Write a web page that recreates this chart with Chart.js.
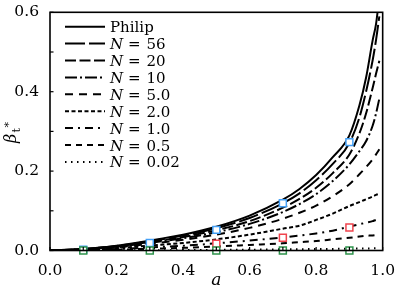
<!DOCTYPE html>
<html><head><meta charset="utf-8">
<script src="https://cdn.jsdelivr.net/npm/chart.js@4.4.0/dist/chart.umd.min.js"></script>
<style>html,body{margin:0;padding:0;background:#fff}#wrap{width:398px;height:299px}</style>
</head><body><div id="wrap"><canvas id="c" width="398" height="299"></canvas></div>
<script>
// a values (x axis)
const aValues = [0, 0.1, 0.2, 0.3, 0.4, 0.5, 0.6, 0.7, 0.75, 0.8, 0.85, 0.9, 0.93, 0.95, 0.97, 0.98, 0.99];
// curves
const philip = [0, 0.004, 0.012, 0.025, 0.040, 0.060, 0.088, 0.128, 0.155, 0.190, 0.235, 0.290, 0.365, 0.435, 0.530, 0.570, 0.640];
const n56    = [0, 0.0038, 0.0114, 0.0235, 0.0375, 0.056, 0.082, 0.119, 0.144, 0.177, 0.218, 0.271, 0.335, 0.400, 0.480, 0.530, 0.590];
const n20    = [0, 0.0035, 0.0104, 0.0215, 0.034, 0.051, 0.074, 0.108, 0.130, 0.158, 0.195, 0.242, 0.295, 0.345, 0.410, 0.445, 0.478];
const n10    = [0, 0.0032, 0.0095, 0.0195, 0.031, 0.046, 0.067, 0.097, 0.117, 0.142, 0.175, 0.217, 0.250, 0.275, 0.315, 0.345, 0.383];
const n5     = [0, 0.0027, 0.008, 0.017, 0.027, 0.040, 0.057, 0.080, 0.095, 0.113, 0.137, 0.167, 0.192, 0.210, 0.230, 0.242, 0.255];
const n2     = [0, 0.002, 0.006, 0.0125, 0.019, 0.028, 0.040, 0.055, 0.0625, 0.077, 0.093, 0.112, 0.122, 0.129, 0.136, 0.140, 0.143];
const n1     = [0, 0.0012, 0.0036, 0.0078, 0.012, 0.018, 0.025, 0.033, 0.0375, 0.043, 0.050, 0.060, 0.066, 0.070, 0.074, 0.077, 0.079];
const n05    = [0, 0.0007, 0.002, 0.0044, 0.0068, 0.010, 0.014, 0.018, 0.021, 0.024, 0.028, 0.032, 0.035, 0.037, 0.038, 0.039, 0.040];
const n002   = [0, 0.0001, 0.0003, 0.0006, 0.001, 0.0015, 0.002, 0.003, 0.0033, 0.0037, 0.004, 0.0045, 0.005, 0.0052, 0.0055, 0.0057, 0.006];
const curveLabels = ['Philip', 'N = 56', 'N = 20', 'N = 10', 'N = 5.0', 'N = 2.0', 'N = 1.0', 'N = 0.5', 'N = 0.02'];
// markers
const blueA = [0.1, 0.3, 0.5, 0.7, 0.9];
const blueV = [0.002, 0.019, 0.052, 0.119, 0.273];
const redA = [0.5, 0.7, 0.9];
const redV = [0.017, 0.032, 0.058];
const greenA = [0.1, 0.3, 0.5, 0.7, 0.9];
const greenV = [0, 0, 0, 0, 0];
const xTicks = [0.0, 0.2, 0.4, 0.6, 0.8, 1.0];
const yTicks = [0.0, 0.2, 0.4, 0.6];

const curveSeries = [philip, n56, n20, n10, n5, n2, n1, n05, n002];
const dashes = [[], [20, 4], [11, 3.5], [12, 3, 2, 3], [8, 6], [4, 2.5], [8, 5, 2, 5], [6, 5], [1.5, 4.5]];
const SERIF = '"DejaVu Serif", "Liberation Serif", serif';

const datasets = [];
curveSeries.forEach((s, i) => {
  datasets.push({
    type: 'line', label: curveLabels[i],
    data: aValues.map((a, k) => ({x: a, y: s[k]})),
    borderColor: '#000', borderWidth: 2, borderDash: dashes[i],
    pointRadius: 0, fill: false, cubicInterpolationMode: 'monotone', order: 10 + i, isCurve: true
  });
});
function markerSet(xs, ys, color, order, label) {
  return { type: 'scatter', label, data: xs.map((a, k) => ({x: a, y: ys[k]})),
    pointStyle: 'rect', pointRadius: 4.9, pointBorderWidth: 1.5,
    borderColor: color, backgroundColor: '#fff', pointBackgroundColor: '#fff', pointBorderColor: color,
    order, showLine: false, clip: false };
}
datasets.push(markerSet(redA, redV, '#f0444e', 2, 'red'));
datasets.push(markerSet(blueA, blueV, '#44a0f6', 1, 'blue'));
datasets.push(markerSet(greenA, greenV, '#2e924b', 0, 'green'));

const decor = {
  id: 'decor',
  afterDraw(chart) {
    const ctx = chart.ctx, ca = chart.chartArea;
    const xs = chart.scales.x, ys = chart.scales.y;
    ctx.save();
    // box
    ctx.strokeStyle = '#000'; ctx.lineWidth = 1.6; ctx.setLineDash([]);
    ctx.strokeRect(ca.left, ca.top, ca.right - ca.left, ca.bottom - ca.top);
    // inward ticks
    ctx.lineWidth = 1.2;
    for (let k = 0; k <= 10; k++) {
      const px = xs.getPixelForValue(k / 10);
      ctx.beginPath(); ctx.moveTo(px, ca.bottom); ctx.lineTo(px, ca.bottom - 3.5); ctx.stroke();
    }
    for (let k = 0; k <= 6; k++) {
      const py = ys.getPixelForValue(k / 10);
      ctx.beginPath(); ctx.moveTo(ca.left, py); ctx.lineTo(ca.left + 3.5, py); ctx.stroke();
    }
    // legend
    const lx0 = 65, lx1 = 105, tx = 110, y0 = 26.7, dy = 16.9;
    chart.data.datasets.filter(d => d.isCurve).forEach((d, i) => {
      const y = y0 + i * dy;
      ctx.strokeStyle = '#000'; ctx.lineWidth = 2; ctx.setLineDash(d.borderDash);
      ctx.beginPath(); ctx.moveTo(lx0, y); ctx.lineTo(lx1, y); ctx.stroke();
      ctx.setLineDash([]);
      ctx.fillStyle = '#000'; ctx.textBaseline = 'alphabetic'; ctx.textAlign = 'left';
      if (d.label.startsWith('N')) {
        const val = d.label.split('=')[1].trim();
        ctx.font = 'italic 15px ' + SERIF; ctx.fillText('N', tx, y + 5.5);
        ctx.font = '15px ' + SERIF; ctx.fillText('=', tx + 18, y + 5.5);
        ctx.fillText(val, tx + 36.5, y + 5.5);
      } else {
        ctx.font = '15px ' + SERIF; ctx.fillText(d.label, tx, y + 5.5);
      }
    });
    // x title
    ctx.font = 'italic 17px ' + SERIF; ctx.textAlign = 'center'; ctx.textBaseline = 'middle';
    ctx.fillText('a', (ca.left + ca.right) / 2, 281);
    // y title beta_t^*
    ctx.translate(16, 143); ctx.rotate(-Math.PI / 2);
    ctx.textAlign = 'left'; ctx.textBaseline = 'alphabetic';
    ctx.font = 'italic 16px ' + SERIF; ctx.fillText('β', 0, 0);
    ctx.font = '11px ' + SERIF; ctx.fillText('t', 10.5, 3.5);
    ctx.fillText('*', 15.5, -4);
    ctx.restore();
  }
};

new Chart(document.getElementById('c'), {
  data: { datasets },
  options: {
    responsive: false, animation: false, devicePixelRatio: 1,
    layout: { padding: { top: 9.5, right: 13, left: 0, bottom: 0 } },
    plugins: { legend: { display: false }, tooltip: { enabled: false } },
    scales: {
      x: { type: 'linear', min: 0, max: 1,
        afterFit(s) { s.height = 48.5; },
        afterBuildTicks(s) { s.ticks = xTicks.map(v => ({value: v})); },
        grid: { display: false }, border: { display: false },
        ticks: { autoSkip: false, maxRotation: 0, padding: 3, color: '#000',
          font: { family: SERIF, size: 15.5 }, callback: v => v.toFixed(1) } },
      y: { type: 'linear', min: 0, max: 0.6,
        afterFit(s) { s.width = 50; },
        afterBuildTicks(s) { s.ticks = yTicks.map(v => ({value: v})); },
        grid: { display: false }, border: { display: false },
        ticks: { autoSkip: false, padding: 3, color: '#000',
          font: { family: SERIF, size: 15.5 }, callback: v => v.toFixed(1) } }
    }
  },
  plugins: [decor]
});
</script></body></html>
